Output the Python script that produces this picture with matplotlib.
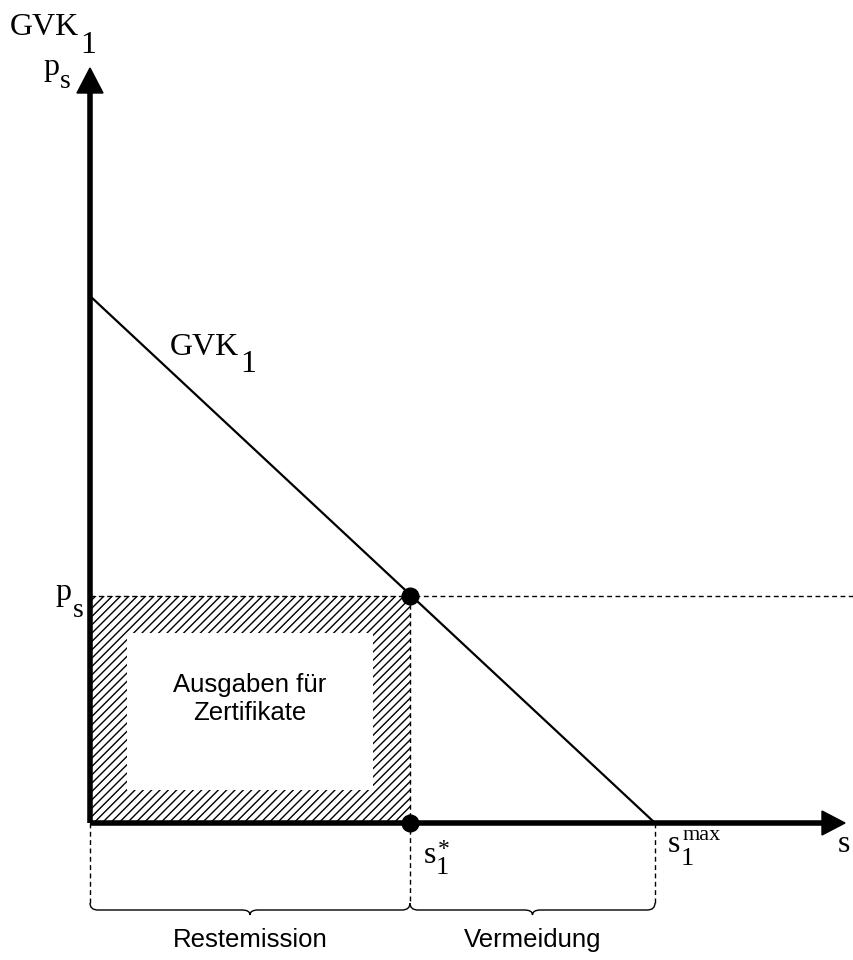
import matplotlib
matplotlib.use('Agg')
import matplotlib.pyplot as plt
from matplotlib.path import Path
from matplotlib.patches import PathPatch, Rectangle, Polygon

# Werte (Pixel-Einheiten ab Ursprung)
s_max = 565          # s1^max
gvk_intercept = 527  # Achsenabschnitt GVK1
s_star = 320         # s1*
p_s = 227            # Zertifikatpreis
gvk_x = [0, s_max]
gvk_y = [gvk_intercept, 0]
brace_labels = ['Restemission', 'Vermeidung']
brace_spans = [(0, s_star), (s_star, s_max)]

SERIF = 'Liberation Serif'
SANS = 'Liberation Sans'

plt.rcParams['hatch.linewidth'] = 1.0

fig = plt.figure(figsize=(8.54, 9.6), dpi=100)
ax = fig.add_axes([0, 0, 1, 1])
ax.set_xlim(-90, 764)
ax.set_ylim(-137, 823)
ax.axis('off')

# schraffierte Flaeche
ax.add_patch(Rectangle((0, 0), s_star, p_s, facecolor='white', edgecolor='black',
                       hatch='////', lw=0, zorder=1))
ax.add_patch(Rectangle((37, 33), 246, 157, facecolor='white', edgecolor='none', zorder=2))
ax.text(160, 124, 'Ausgaben für\nZertifikate', family=SANS, fontsize=18.5,
        ha='center', va='center', linespacing=1.25, zorder=3)

# gestrichelte Linien
dash = dict(color='black', lw=1.0, dashes=(3.5, 2.5), zorder=3)
ax.plot([0, 764], [p_s, p_s], **dash)
ax.plot([s_star, s_star], [p_s, -80], **dash)
ax.plot([0, 0], [0, -80], **dash)
ax.plot([s_max, s_max], [0, -80], **dash)

# GVK-Linie
ax.plot(gvk_x, gvk_y, color='black', lw=1.6, zorder=4, solid_capstyle='butt')

# Achsen
ax.plot([0, 0], [0, 735], color='black', lw=4, zorder=5, solid_capstyle='butt')
ax.plot([0, 732], [0, 0], color='black', lw=4, zorder=5, solid_capstyle='butt')
ax.add_patch(Polygon([(-13, 730), (13, 730), (0, 755)], closed=True, color='black', zorder=5))
ax.add_patch(Polygon([(732, 12), (732, -12), (755, 0)], closed=True, color='black', zorder=5))

# Punkte
ax.plot([s_star, s_star], [p_s, 0], 'o', color='black', markersize=12, zorder=6)


def brace(a, b, y_top=-80, y_h=-87, y_tip=-92, r=8):
    m = (a + b) / 2
    verts = [(a, y_top), (a, y_h), (a + r, y_h),
             (m - r, y_h), (m, y_h), (m, y_tip),
             (m, y_h), (m + r, y_h),
             (b - r, y_h), (b, y_h), (b, y_top)]
    codes = [Path.MOVETO, Path.CURVE3, Path.CURVE3,
             Path.LINETO, Path.CURVE3, Path.CURVE3,
             Path.CURVE3, Path.CURVE3,
             Path.LINETO, Path.CURVE3, Path.CURVE3]
    return PathPatch(Path(verts, codes), facecolor='none', edgecolor='black', lw=1.0)


for (a, b), lab in zip(brace_spans, brace_labels):
    ax.add_patch(brace(a, b))
    ax.text((a + b) / 2, -124, lab, family=SANS, fontsize=18.5, ha='center', va='baseline')


def label(x, y, s, size=23):
    ax.text(x - 90, 823 - y, s, family=SERIF, fontsize=size, ha='left', va='baseline',
            clip_on=False)


# Beschriftungen (Pixelpositionen)
label(10, 35, 'GVK')
label(80, 53, '1')
label(43, 75, 'p')
label(60, 88, 's', 20)
label(170, 355, 'GVK')
label(240, 372, '1')
label(55, 600, 'p')
label(73, 617, 's', 20)
label(424, 863, 's')
label(436, 874, '1', 19)
label(438, 855, '*', 17)
label(668, 852, 's')
label(681, 865, '1', 19)
label(683, 840, 'max', 16)
label(838, 852, 's')
label(851, 865, '1', 19)

fig.savefig('out.png', dpi=100)
